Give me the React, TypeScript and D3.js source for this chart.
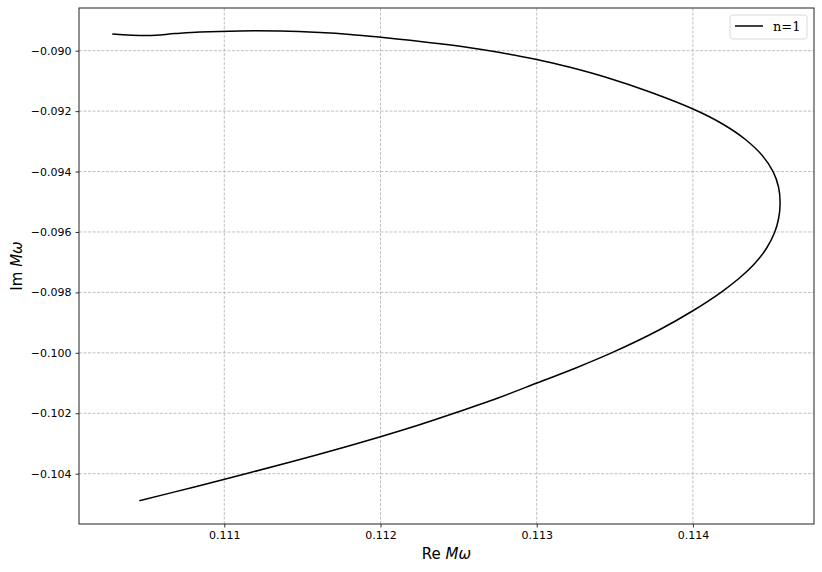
import { useRef, useEffect } from 'react';
import * as d3 from 'd3';

// points, in curve order
const RE_OMEGA = [
  0.110283, 0.110513, 0.110684, 0.110844, 0.111101, 0.111357, 0.111613, 0.111805,
  0.112003, 0.112189, 0.112381, 0.112573, 0.112765, 0.113000, 0.113213, 0.113448,
  0.113725, 0.114015, 0.114190, 0.114332, 0.114441, 0.114513, 0.114548, 0.114558,
  0.114549, 0.114524, 0.114472, 0.114397, 0.114298, 0.114180, 0.113997, 0.113783,
  0.113482, 0.113250, 0.112997, 0.112752, 0.112471, 0.112245, 0.112000, 0.111590,
  0.111150, 0.110809, 0.110456,
];
const IM_OMEGA = [
  -0.089447, -0.089500, -0.089434, -0.089381, -0.089345, -0.089351, -0.089401, -0.089464,
  -0.089557, -0.089656, -0.089772, -0.089904, -0.090060, -0.090288, -0.090549, -0.090887,
  -0.091367, -0.091963, -0.092426, -0.092922, -0.093452, -0.094005, -0.094511, -0.095041,
  -0.095537, -0.096000, -0.096530, -0.097036, -0.097523, -0.097996, -0.098615, -0.099244,
  -0.099995, -0.100501, -0.101008, -0.101494, -0.102001, -0.102388, -0.102775, -0.103381,
  -0.103986, -0.104440, -0.104893,
];
const X_TICKS = [0.111, 0.112, 0.113, 0.114];
const Y_TICKS = [-0.090, -0.092, -0.094, -0.096, -0.098, -0.100, -0.102, -0.104];
const LEGEND = 'n=1';

export default function App() {
  const ref = useRef<SVGSVGElement | null>(null);

  useEffect(() => {
    const svg = d3.select(ref.current);
    svg.selectAll('*').remove();

    const W = 822, H = 572;
    const m = { top: 8, right: 8, bottom: 48, left: 79 };
    const iw = W - m.left - m.right;
    const ih = H - m.top - m.bottom;
    const font = 'DejaVu Sans, sans-serif';

    const x = d3.scaleLinear().domain([0.11007, 0.114775]).range([0, iw]);
    const y = d3.scaleLinear().domain([-0.105665, -0.088587]).range([ih, 0]);

    const g = svg.append('g').attr('transform', `translate(${m.left},${m.top})`);

    // grid
    g.append('g').selectAll('line').data(X_TICKS).enter().append('line')
      .attr('x1', d => x(d)).attr('x2', d => x(d)).attr('y1', 0).attr('y2', ih)
      .attr('stroke', '#b0b0b0').attr('stroke-width', 0.8).attr('stroke-dasharray', '3,1.5');
    g.append('g').selectAll('line').data(Y_TICKS).enter().append('line')
      .attr('y1', d => y(d)).attr('y2', d => y(d)).attr('x1', 0).attr('x2', iw)
      .attr('stroke', '#b0b0b0').attr('stroke-width', 0.8).attr('stroke-dasharray', '3,1.5');

    // curve
    const pts = RE_OMEGA.map((v, i) => [v, IM_OMEGA[i]] as [number, number]);
    g.append('path').datum(pts)
      .attr('fill', 'none').attr('stroke', '#000').attr('stroke-width', 1.5)
      .attr('d', d3.line<[number, number]>().x(d => x(d[0])).y(d => y(d[1])).curve(d3.curveCatmullRom.alpha(0.5)));

    // axes
    const fmt = d3.format('.3f');
    g.append('g').attr('transform', `translate(0,${ih})`)
      .call(d3.axisBottom(x).tickValues(X_TICKS).tickFormat(d => fmt(d as number)).tickSize(3.5).tickPadding(4))
      .call(s => s.select('.domain').remove())
      .call(s => s.selectAll('text').attr('fill', '#000').style('font-size', '11px').style('font-family', font))
      .call(s => s.selectAll('line').attr('stroke', '#000').attr('stroke-width', 0.8));
    g.append('g')
      .call(d3.axisLeft(y).tickValues(Y_TICKS).tickFormat(d => fmt(d as number).replace('-', '\u2212')).tickSize(3.5).tickPadding(4))
      .call(s => s.select('.domain').remove())
      .call(s => s.selectAll('text').attr('fill', '#000').style('font-size', '11px').style('font-family', font))
      .call(s => s.selectAll('line').attr('stroke', '#000').attr('stroke-width', 0.8));

    // frame
    g.append('rect').attr('x', 0).attr('y', 0).attr('width', iw).attr('height', ih)
      .attr('fill', 'none').attr('stroke', '#222').attr('stroke-width', 1);

    // axis labels
    const xl = svg.append('text').attr('x', m.left + iw / 2).attr('y', 559)
      .attr('text-anchor', 'middle').style('font-family', font).style('font-size', '15px');
    xl.append('tspan').text('Re ');
    xl.append('tspan').attr('font-style', 'italic').text('Mω');

    const yl = svg.append('text').attr('transform', `translate(22,${m.top + ih / 2}) rotate(-90)`)
      .attr('text-anchor', 'middle').style('font-family', font).style('font-size', '15px');
    yl.append('tspan').text('Im ');
    yl.append('tspan').attr('font-style', 'italic').text('Mω');

    // legend
    const lg = svg.append('g').attr('transform', 'translate(730,15)');
    lg.append('rect').attr('width', 77).attr('height', 24).attr('rx', 2.5)
      .attr('fill', '#fff').attr('fill-opacity', 0.8).attr('stroke', '#d0d0d0').attr('stroke-width', 0.8);
    lg.append('line').attr('x1', 5).attr('x2', 33).attr('y1', 11).attr('y2', 11)
      .attr('stroke', '#000').attr('stroke-width', 1.5);
    lg.append('text').attr('x', 43).attr('y', 16)
      .style('font-family', 'DejaVu Serif, serif').style('font-size', '13px').text(LEGEND);
  }, []);

  return <svg ref={ref} width={822} height={572} style={{ position: 'absolute', left: 0, top: 0 }} />;
}
